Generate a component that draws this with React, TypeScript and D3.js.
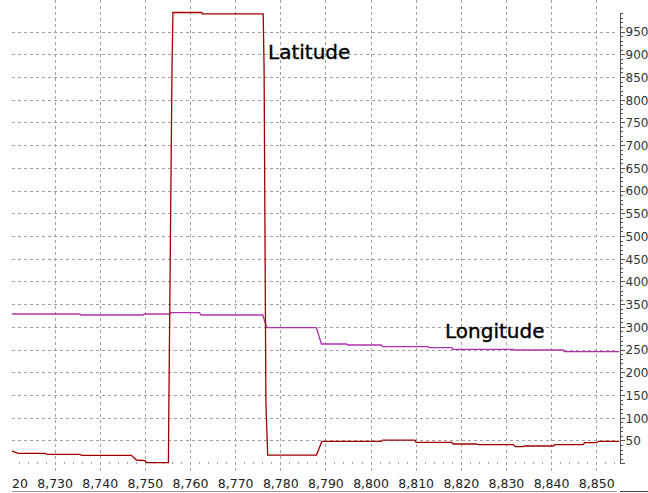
import React from 'react';
import * as d3 from 'd3';

// tick labels
const xTicks = [8720, 8730, 8740, 8750, 8760, 8770, 8780, 8790, 8800, 8810, 8820, 8830, 8840, 8850];
const yTicks = [50, 100, 150, 200, 250, 300, 350, 400, 450, 500, 550, 600, 650, 700, 750, 800, 850, 900, 950];

// Latitude trace (sample number, value)
const latSample = [
  8720, 8720.3, 8721.8, 8727.8, 8728.2, 8735.5, 8735.8, 8746.9, 8748.0, 8749.9, 8750.3, 8755.1,
  8755.2, 8755.9, 8756.1, 8762.5, 8762.6, 8776.1, 8776.3, 8776.7, 8777.1, 8787.9, 8789.1,
  8802.3, 8802.6, 8809.7, 8810.0, 8817.9, 8818.2, 8823.4, 8823.7, 8831.5, 8832.0, 8833.7,
  8834.0, 8840.4, 8840.7, 8847.0, 8847.3, 8850.0, 8850.3, 8855.0,
];
const latValue = [
  28.6, 28.6, 22.9, 22.9, 20.7, 20.7, 18.5, 18.5, 8.1, 6.6, 2.2, 2.2,
  125, 871, 993, 993, 990, 990, 871, 136, 19, 19, 49,
  49, 52, 52, 47, 47, 43.4, 43.4, 41.8, 41.8, 37.4, 37.4,
  39, 39, 41.8, 41.8, 46.2, 46.2, 49.3, 49.3,
];

// Longitude trace (sample number, value)
const lonSample = [
  8720, 8735.5, 8735.7, 8749.5, 8749.7, 8755.4, 8755.6, 8762.0, 8762.3, 8776.0, 8776.9,
  8787.9, 8789.0, 8794.6, 8794.8, 8802.3, 8802.5, 8812.7, 8812.9, 8817.9, 8818.1,
  8831.5, 8831.7, 8842.6, 8842.8, 8855.0,
];
const lonValue = [
  329.4, 329.4, 327.2, 327.2, 329.4, 329.4, 332.3, 332.3, 327.2, 327.2, 299.3,
  299.3, 263.4, 263.4, 261.2, 261.2, 257.5, 257.5, 255.3, 255.3, 251.8,
  251.8, 250.2, 250.2, 246.5, 246.5,
];

const W = 648;
const H = 493;
const LEFT = 12;
const AXIS_X = 620.5;
const FONT = "'DejaVu Sans', Verdana, sans-serif";

export default function App() {
  const x = d3.scaleLinear().domain([8720, 8850]).range([10, 596.7]);
  const y = d3.scaleLinear().domain([0, 1000]).range([463.7, 9.3]);

  const line = d3.line<[number, number]>()
    .x(d => x(d[0]))
    .y(d => y(d[1]));

  const lat = latSample.map((s, i) => [s, latValue[i]] as [number, number]);
  const lon = lonSample.map((s, i) => [s, lonValue[i]] as [number, number]);

  const px = (v: number) => Math.floor(v) + 0.5;
  const minorX = d3.range(8722, 8856, 2).filter(d => d % 10 !== 0);
  const minorY = d3.range(0, 1000, 10);

  return (
    <svg width={W} height={H} style={{ position: 'absolute', left: 0, top: 0, background: '#fff' }}>
      <defs>
        <clipPath id="plot">
          <rect x={LEFT} y={0} width={AXIS_X - LEFT} height={H} />
        </clipPath>
      </defs>

      <g clipPath="url(#plot)">
        {/* grid */}
        {yTicks.map(t => (
          <line key={'gy' + t} x1={LEFT} x2={AXIS_X - 3} y1={px(y(t))} y2={px(y(t))}
            stroke="#a0a0a0" strokeDasharray="3,3" shapeRendering="crispEdges" />
        ))}
        {xTicks.filter(t => t > 8720).map(t => (
          <line key={'gx' + t} x1={px(x(t))} x2={px(x(t))} y1={0} y2={473}
            stroke="#a0a0a0" strokeDasharray="3,3" shapeRendering="crispEdges" />
        ))}
        {minorX.map(t => (
          <line key={'mx' + t} x1={px(x(t))} x2={px(x(t))} y1={462} y2={464}
            stroke="#a0a0a0" shapeRendering="crispEdges" />
        ))}

        {/* series */}
        <path d={line(lon) || ''} fill="none" stroke="#b030b0" strokeWidth={1.3} />
        <path d={line(lat) || ''} fill="none" stroke="#a00000" strokeWidth={1.3} />

        {/* x labels */}
        {xTicks.map(t => (
          <text key={'xl' + t} x={x(t)} y={488} textAnchor="middle" fontFamily={FONT}
            fontSize={12.5} fill="#222">{d3.format(',')(t)}</text>
        ))}
      </g>

      {/* series names */}
      <text x={268} y={59} fontFamily={FONT} fontSize={20} fill="#000" stroke="#000" strokeWidth={0.35}>Latitude</text>
      <text x={445} y={337.5} fontFamily={FONT} fontSize={20} fill="#000" stroke="#000" strokeWidth={0.35}>Longitude</text>

      {/* right axis */}
      <line x1={AXIS_X} x2={AXIS_X} y1={y(992)} y2={y(0)} stroke="#555" shapeRendering="crispEdges" />
      {minorY.map(t => (
        <line key={'my' + t} x1={AXIS_X} x2={AXIS_X + (t % 50 === 0 ? 4 : 2.5)}
          y1={px(y(t))} y2={px(y(t))} stroke="#555" shapeRendering="crispEdges" />
      ))}
      {yTicks.map(t => (
        <text key={'yl' + t} x={625.5} y={y(t)} dy="0.36em" fontFamily={FONT}
          fontSize={12} fill="#333">{t}</text>
      ))}

      {/* bottom rule */}
      <line x1={LEFT} x2={617} y1={491.5} y2={491.5} stroke="#999" shapeRendering="crispEdges" />
      <line x1={620} x2={W} y1={491.5} y2={491.5} stroke="#444" shapeRendering="crispEdges" />
    </svg>
  );
}
